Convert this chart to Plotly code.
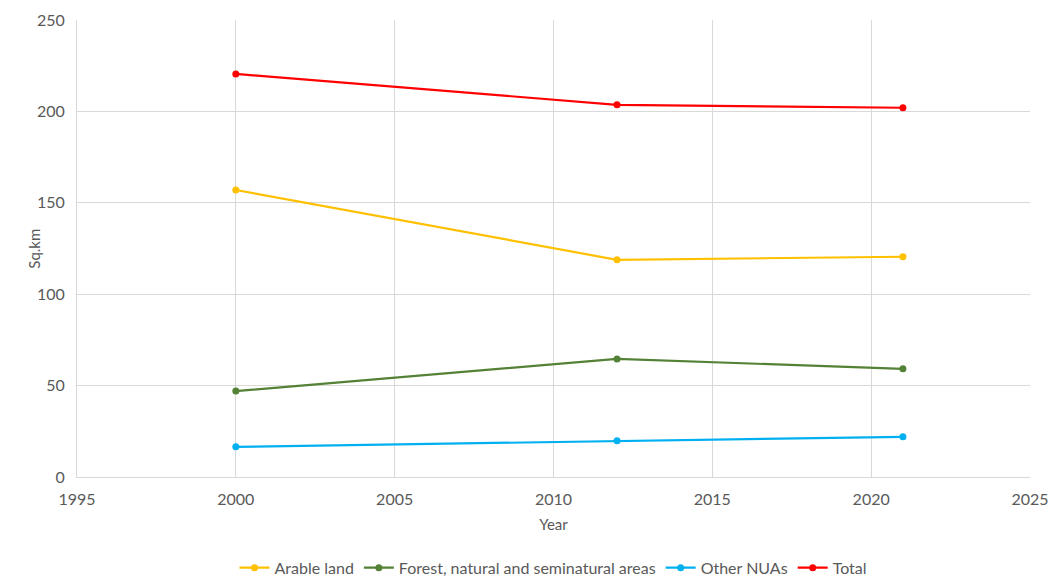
import plotly.graph_objects as go

years = [2000, 2012, 2021]
arable = [157.0, 118.8, 120.5]
forest = [47.0, 64.6, 59.2]
other_nuas = [16.5, 19.8, 22.0]
total = [220.5, 203.6, 202.0]

series = [
    ("Arable land", arable, "#FFC000"),
    ("Forest, natural and seminatural areas", forest, "#538135"),
    ("Other NUAs", other_nuas, "#00B0F0"),
    ("Total", total, "#FF0000"),
]

fig = go.Figure()
for name, vals, col in series:
    fig.add_trace(go.Scatter(
        x=years, y=vals, name=name, mode="lines+markers",
        line=dict(color=col, width=2.2),
        marker=dict(color=col, size=7),
    ))

font = "Lato, Open Sans, sans-serif"
fig.update_layout(
    width=1050, height=577,
    margin=dict(l=77, r=20, t=20, b=100, autoexpand=False),
    paper_bgcolor="white", plot_bgcolor="white",
    font=dict(family=font, size=16, color="#595959"),
    legend=dict(orientation="h", x=0.5, xanchor="center",
                yref="container", y=0.016, yanchor="middle",
                font=dict(size=16, color="#595959"), itemwidth=30),
    xaxis=dict(
        range=[1995, 2025], dtick=5, tick0=1995,
        showgrid=True, gridcolor="#D9D9D9", gridwidth=1,
        showline=True, linecolor="#D9D9D9", mirror=False,
        zeroline=False, ticks="outside", ticklen=8, tickcolor="white",
        tickfont=dict(size=16),
        title=dict(text="Year", font=dict(size=15, color="#595959"), standoff=12),
    ),
    yaxis=dict(
        range=[0, 250], dtick=50,
        showgrid=True, gridcolor="#D9D9D9", gridwidth=1,
        showline=True, linecolor="#D9D9D9",
        zeroline=False, ticks="outside", ticklen=8, tickcolor="white",
        tickfont=dict(size=16),
    ),
    annotations=[dict(
        text="Sq.km", textangle=-90, showarrow=False,
        xref="paper", yref="paper", x=-0.046, y=0.5,
        xanchor="center", yanchor="middle",
        font=dict(size=15, color="#595959"),
    )],
)

fig.write_html("out.html")
